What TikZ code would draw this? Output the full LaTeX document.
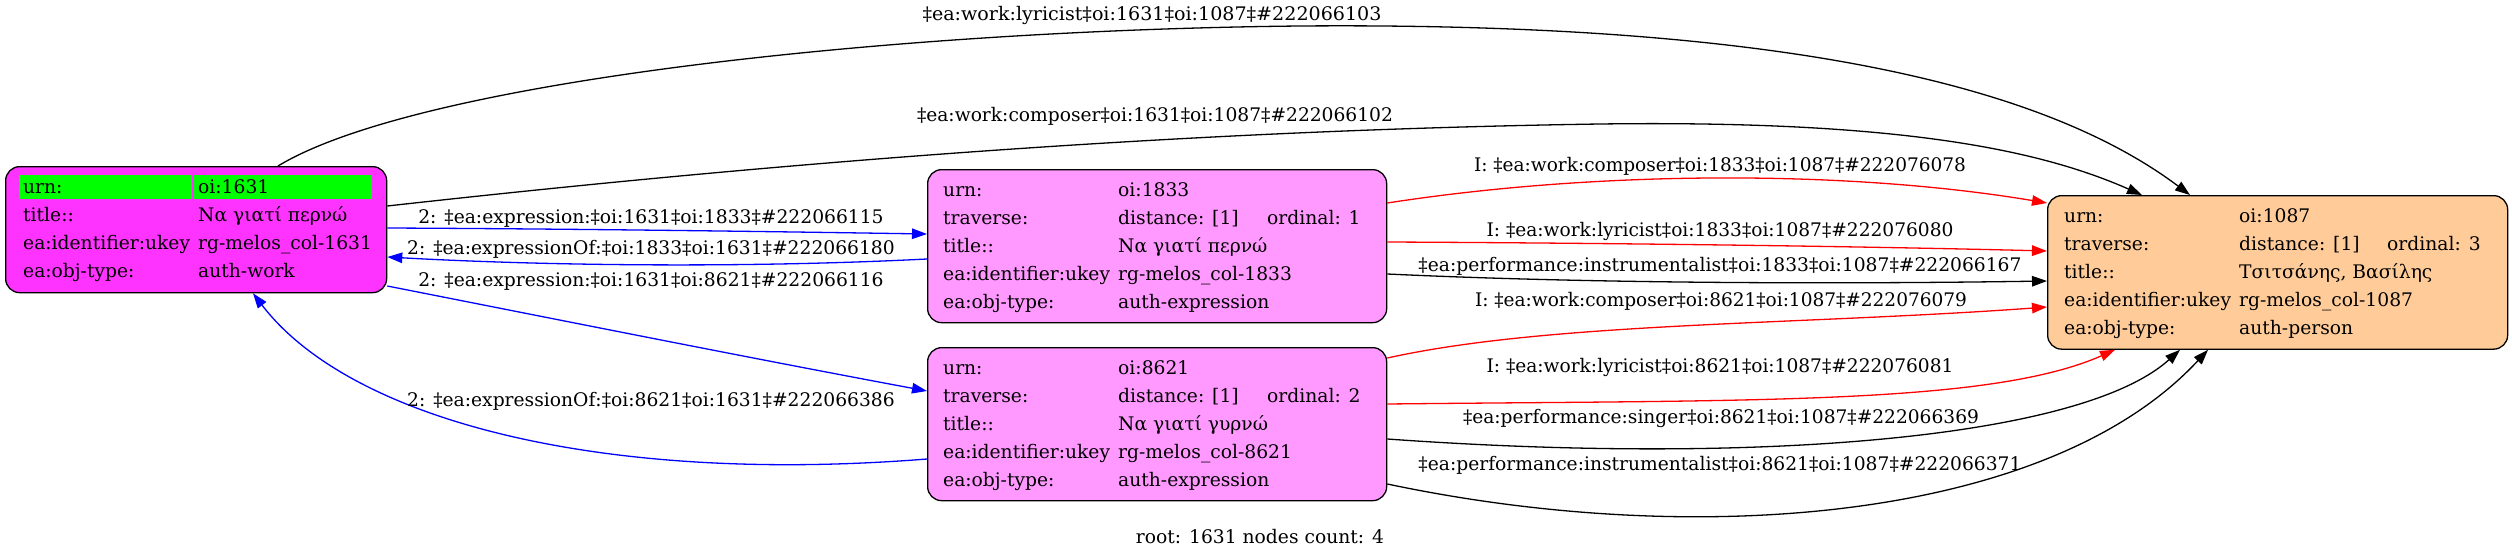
\documentclass[tikz,border=0pt]{standalone}
\usepackage{fontspec}
\usepackage{graphicx}
\setmainfont{DejaVu Serif}
\usetikzlibrary{arrows.meta,calc}
\definecolor{workfill}{HTML}{FF33FF}
\definecolor{exprfill}{HTML}{FF99FF}
\definecolor{persfill}{HTML}{FFCC99}
\definecolor{keygreen}{HTML}{00FF00}
\newcommand{\sqz}[2]{\resizebox{#1pt}{\height}{#2}}
\begin{document}
\begin{tikzpicture}[x=1pt,y=-1pt,
  font=\fontsize{18.7}{22}\selectfont,
  rec/.style={draw=black, line width=1.3pt, rounded corners=14pt, inner sep=0pt, anchor=north west},
  txt/.style={anchor=base west, inner sep=0pt},
  lbl/.style={anchor=base, inner sep=0pt},
  conn/.style={line width=1.3pt, -{Triangle[length=15pt,width=10.5pt]}},
  bconn/.style={conn, draw=blue},
  rconn/.style={conn, draw=red},
  kconn/.style={conn, draw=black}]
\useasboundingbox (0,0) rectangle (2512,557);
\fill[white] (0,0) rectangle (2512,557);

% ---------- records ----------
\node[rec, fill=workfill, minimum width=381pt, minimum height=126pt] (n1631) at (5,166) {};
\fill[keygreen] (19,175) rectangle (192,199);
\fill[keygreen] (194,175) rectangle (372,199);
\node[txt] (a1) at (23,193) {urn:};
\node[txt] (a2) at (198,193) {oi:1631};
\node[txt] (a3) at (23,221) {title::};
\node[txt] (a4) at (198,221) {Να γιατί περνώ};
\node[txt] (a5) at (23,249) {ea:identifier:ukey};
\node[txt] (a6) at (198,249) {rg-melos\_col-1631};
\node[txt] (a7) at (23,277) {ea:obj-type:};
\node[txt] (a8) at (198,277) {auth-work};

\node[rec, fill=exprfill, minimum width=459pt, minimum height=153pt] (n1833) at (927,169) {};
\node[txt] (b1) at (943,196) {urn:};
\node[txt] (b2) at (1118,196) {oi:1833};
\node[txt] (b3) at (943,224) {traverse:};
\node[txt] (b4) at (1118,224) {distance: [1]};
\node[txt] (b5) at (1267,224) {ordinal: 1};
\node[txt] (b6) at (943,252) {title::};
\node[txt] (b7) at (1118,252) {Να γιατί περνώ};
\node[txt] (b8) at (943,280) {ea:identifier:ukey};
\node[txt] (b9) at (1118,280) {rg-melos\_col-1833};
\node[txt] (b10) at (943,308) {ea:obj-type:};
\node[txt] (b11) at (1118,308) {auth-expression};

\node[rec, fill=exprfill, minimum width=459pt, minimum height=153pt] (n8621) at (927,347) {};
\node[txt] (c1) at (943,374) {urn:};
\node[txt] (c2) at (1118,374) {oi:8621};
\node[txt] (c3) at (943,402) {traverse:};
\node[txt] (c4) at (1118,402) {distance: [1]};
\node[txt] (c5) at (1267,402) {ordinal: 2};
\node[txt] (c6) at (943,430) {title::};
\node[txt] (c7) at (1118,430) {Να γιατί γυρνώ};
\node[txt] (c8) at (943,458) {ea:identifier:ukey};
\node[txt] (c9) at (1118,458) {rg-melos\_col-8621};
\node[txt] (c10) at (943,486) {ea:obj-type:};
\node[txt] (c11) at (1118,486) {auth-expression};

\node[rec, fill=persfill, minimum width=460pt, minimum height=153.5pt] (n1087) at (2047,195) {};
\node[txt] (d1) at (2064,222) {urn:};
\node[txt] (d2) at (2239,222) {oi:1087};
\node[txt] (d3) at (2064,250) {traverse:};
\node[txt] (d4) at (2239,250) {distance: [1]};
\node[txt] (d5) at (2387,250) {ordinal: 3};
\node[txt] (d6) at (2064,278) {title::};
\node[txt] (d7) at (2239,278) {Τσιτσάνης, Βασίλης};
\node[txt] (d8) at (2064,306) {ea:identifier:ukey};
\node[txt] (d9) at (2239,306) {rg-melos\_col-1087};
\node[txt] (d10) at (2064,334) {ea:obj-type:};
\node[txt] (d11) at (2239,334) {auth-person};

% ---------- connectors ----------
\draw[kconn] ($(n1631.north west)+(273,0)$) .. controls (420,80) and (900,30) .. (1300,26)
  .. controls (1800,22) and (2050,90) .. ($(n1087.north west)+(143,0)$);
\draw[kconn] ($(n1631.north east)+(0,40)$) .. controls (800,160) and (1200,130) .. (1600,124)
  .. controls (1900,120) and (2040,150) .. ($(n1087.north west)+(95,0)$);
\draw[bconn] ($(n1631.north east)+(0,62)$) .. controls (600,229) and (800,232) .. ($(n1833.north west)+(0,65)$);
\draw[bconn] ($(n1833.north west)+(0,90)$) .. controls (750,268) and (550,266) .. ($(n1631.north east)+(0,91)$);
\draw[bconn] ($(n1631.north east)+(0,120)$) .. controls (570,322) and (750,358) .. ($(n8621.north west)+(0,44)$);
\draw[bconn] ($(n8621.north west)+(0,112)$) .. controls (600,485) and (350,420) .. ($(n1631.south west)+(248,0)$);

\draw[rconn] ($(n1833.north east)+(0,34)$) .. controls (1600,170) and (1850,170) .. ($(n1087.north west)+(0,8)$);
\draw[rconn] ($(n1833.north east)+(0,73)$) .. controls (1600,243) and (1850,246) .. ($(n1087.north west)+(0,56)$);
\draw[kconn] ($(n1833.north east)+(0,105)$) .. controls (1600,284) and (1850,284) .. ($(n1087.north west)+(0,86)$);
\draw[rconn] ($(n8621.north east)+(0,11)$) .. controls (1550,322) and (1800,325) .. ($(n1087.north west)+(0,112)$);
\draw[rconn] ($(n8621.north east)+(0,57)$) .. controls (1750,400) and (1990,405) .. ($(n1087.south west)+(68,0)$);
\draw[kconn] ($(n8621.north east)+(0,92)$) .. controls (1750,465) and (2080,440) .. ($(n1087.south west)+(133,0)$);
\draw[kconn] ($(n8621.north east)+(0,137)$) .. controls (1700,550) and (2050,520) .. ($(n1087.south west)+(161,0)$);

% ---------- connector labels ----------
\node[lbl] (l1) at (1152,20) {\sqz{459}{‡ea:work:lyricist‡oi:1631‡oi:1087‡\#222066103}};
\node[lbl] (l2) at (1155,121) {\sqz{476}{‡ea:work:composer‡oi:1631‡oi:1087‡\#222066102}};
\node[lbl] (l3) at (651,223) {2: ‡ea:expression:‡oi:1631‡oi:1833‡\#222066115};
\node[lbl] (l4) at (651,254) {2: ‡ea:expressionOf:‡oi:1833‡oi:1631‡\#222066180};
\node[lbl] (l5) at (651,286) {2: ‡ea:expression:‡oi:1631‡oi:8621‡\#222066116};
\node[lbl] (l6) at (651,406) {2: ‡ea:expressionOf:‡oi:8621‡oi:1631‡\#222066386};
\node[lbl] (l7) at (1720,171) {\sqz{492}{I: ‡ea:work:composer‡oi:1833‡oi:1087‡\#222076078}};
\node[lbl] (l8) at (1720,236) {\sqz{467}{I: ‡ea:work:lyricist‡oi:1833‡oi:1087‡\#222076080}};
\node[lbl] (l9) at (1720,271) {\sqz{603}{‡ea:performance:instrumentalist‡oi:1833‡oi:1087‡\#222066167}};
\node[lbl] (l10) at (1721,306) {\sqz{492}{I: ‡ea:work:composer‡oi:8621‡oi:1087‡\#222076079}};
\node[lbl] (l11) at (1720,372) {\sqz{467}{I: ‡ea:work:lyricist‡oi:8621‡oi:1087‡\#222076081}};
\node[lbl] (l12) at (1721,423) {\sqz{516}{‡ea:performance:singer‡oi:8621‡oi:1087‡\#222066369}};
\node[lbl] (l13) at (1720,470) {\sqz{603}{‡ea:performance:instrumentalist‡oi:8621‡oi:1087‡\#222066371}};

\node[lbl] (foot) at (1260,543) {root: 1631 nodes count: 4};
\end{tikzpicture}
\end{document}
